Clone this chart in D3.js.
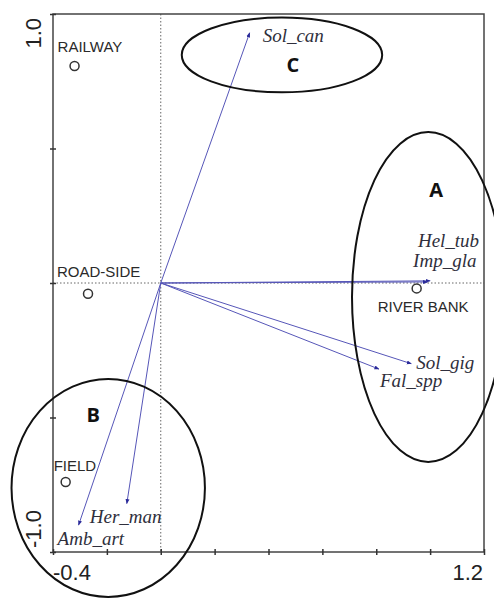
<!DOCTYPE html>
<html>
<head>
<meta charset="utf-8">
<script src="https://cdnjs.cloudflare.com/ajax/libs/d3/7.8.5/d3.min.js"></script>
<style>
  body { margin: 0; background: #fff; }
  svg { display: block; }
</style>
</head>
<body>
<div class="container"></div>
<script>
const W = 494, H = 599;

// axis ticks
const xTicks = [-0.4, -0.2, 0, 0.2, 0.4, 0.6, 0.8, 1.0, 1.2];
const yTicks = [-1.0, -0.5, 0, 0.5, 1.0];
const xTickLabels = ["-0.4", "1.2"];
const yTickLabels = ["-1.0", "1.0"];

// sites (samples)
const sites = ["RAILWAY", "ROAD-SIDE", "FIELD", "RIVER BANK"];
const siteX = [-0.32, -0.27, -0.353, 0.95];
const siteY = [0.807, -0.04, -0.74, -0.02];

// species arrows
const species = ["Sol_can", "Hel_tub", "Imp_gla", "Sol_gig", "Fal_spp", "Her_man", "Amb_art"];
const specX = [0.33, 1.0, 0.99, 0.93, 0.81, -0.126, -0.305];
const specY = [0.93, 0.008, 0.004, -0.30, -0.32, -0.82, -0.90];

// groups drawn as ellipses
const groups = ["C", "A", "B"];
const groupCX = [0.45, 0.993, -0.195];
const groupCY = [0.848, -0.052, -0.762];
const groupRX = [0.372, 0.283, 0.359];
const groupRY = [0.139, 0.613, 0.405];

// label offsets in px
const siteOff = [[-17, -14], [-31, -17], [-12, -11], [-39, 24]];
const specOff = [[13, 9, "start"], [49, -34, "end"], [49, -15, "end"], [5, 5, "start"], [1, 18, "start"], [-37, 19, "start"], [-21, 20, "start"]];
const groupOff = [[11, 17], [8, -100], [-15, -66]];

const SANS = "'Liberation Sans', Arial, sans-serif";
const SERIF = "'Liberation Serif', 'Times New Roman', 'DejaVu Serif', serif";

var draw = function(){
    var svg = d3.select(".container").append("svg")
        .attr("width", W)
        .attr("height", H);

    var x = d3.scaleLinear().domain([-0.4, 1.2]).range([53, 484]);
    var y = d3.scaleLinear().domain([-1, 1]).range([552, 14]);

    // dotted zero lines
    svg.append("line")
        .attr("x1", x(0)).attr("x2", x(0))
        .attr("y1", y(1)).attr("y2", y(-1))
        .attr("stroke", "#666").attr("stroke-width", 1)
        .attr("stroke-dasharray", "1.5,2");
    svg.append("line")
        .attr("x1", x(-0.4)).attr("x2", x(1.2))
        .attr("y1", y(0)).attr("y2", y(0))
        .attr("stroke", "#666").attr("stroke-width", 1)
        .attr("stroke-dasharray", "1.5,2");

    // frame
    svg.append("rect")
        .attr("x", x(-0.4)).attr("y", y(1))
        .attr("width", x(1.2) - x(-0.4))
        .attr("height", y(-1) - y(1))
        .attr("fill", "none").attr("stroke", "#444").attr("stroke-width", 1.5);

    // axes (tick marks only)
    var xAxis = svg.append("g")
        .attr("transform", "translate(0," + y(-1) + ")")
        .call(d3.axisBottom(x).tickValues(xTicks).tickSizeInner(3).tickSizeOuter(0).tickFormat(""));
    xAxis.select(".domain").remove();
    xAxis.selectAll(".tick line").attr("y1", -3).attr("y2", 3).attr("stroke", "#333").attr("stroke-width", 1.5);

    var yAxis = svg.append("g")
        .attr("transform", "translate(" + x(-0.4) + ",0)")
        .call(d3.axisLeft(y).tickValues(yTicks).tickSizeInner(3).tickSizeOuter(0).tickFormat(""));
    yAxis.select(".domain").remove();
    yAxis.selectAll(".tick line").attr("x1", -3).attr("x2", 3).attr("stroke", "#333").attr("stroke-width", 1.5);

    // axis end labels
    var axLab = function(sel){
        sel.attr("font-family", SANS).attr("font-size", 22).attr("fill", "#222");
    };
    svg.append("text").call(axLab)
        .attr("x", x(-0.4)).attr("y", 580).attr("text-anchor", "start")
        .text(xTickLabels[0]);
    svg.append("text").call(axLab)
        .attr("x", x(1.2) - 1).attr("y", 580).attr("text-anchor", "end")
        .text(xTickLabels[1]);
    svg.append("text").call(axLab)
        .attr("transform", "translate(41," + (y(-1) - 4) + ") rotate(-90)")
        .attr("text-anchor", "start")
        .text(yTickLabels[0]);
    svg.append("text").call(axLab)
        .attr("transform", "translate(41," + (y(1) + 4) + ") rotate(-90)")
        .attr("text-anchor", "end")
        .text(yTickLabels[1]);

    // arrowhead
    svg.append("defs").append("marker")
        .attr("id", "arr")
        .attr("viewBox", "0 0 10 10")
        .attr("refX", 9).attr("refY", 5)
        .attr("markerWidth", 5).attr("markerHeight", 5)
        .attr("markerUnits", "userSpaceOnUse")
        .attr("orient", "auto")
        .append("path")
        .attr("d", "M0,1L10,5L0,9Z")
        .attr("fill", "#2a2a99");

    // species arrows
    species.forEach(function(s, i){
        svg.append("line")
            .attr("x1", x(0)).attr("y1", y(0))
            .attr("x2", x(specX[i])).attr("y2", y(specY[i]))
            .attr("stroke", "#5656b8").attr("stroke-width", 1)
            .attr("marker-end", "url(#arr)");
        svg.append("text")
            .attr("font-family", SERIF)
            .attr("font-style", "italic")
            .attr("font-size", 19)
            .attr("fill", "#2f2f3c")
            .attr("x", x(specX[i]) + specOff[i][0])
            .attr("y", y(specY[i]) + specOff[i][1])
            .attr("text-anchor", specOff[i][2])
            .text(s);
    });

    // sites
    sites.forEach(function(s, i){
        svg.append("circle")
            .attr("cx", x(siteX[i])).attr("cy", y(siteY[i]))
            .attr("r", 4.5)
            .attr("fill", "none").attr("stroke", "#333").attr("stroke-width", 1.5);
        svg.append("text")
            .attr("font-family", SANS)
            .attr("font-size", 15)
            .attr("fill", "#2a2a2a")
            .attr("x", x(siteX[i]) + siteOff[i][0])
            .attr("y", y(siteY[i]) + siteOff[i][1])
            .text(s);
    });

    // group ellipses
    groups.forEach(function(g, i){
        var cx = x(groupCX[i]), cy = y(groupCY[i]);
        svg.append("ellipse")
            .attr("cx", cx).attr("cy", cy)
            .attr("rx", x(groupRX[i]) - x(0))
            .attr("ry", y(0) - y(groupRY[i]))
            .attr("fill", "none").attr("stroke", "#111").attr("stroke-width", 2);
        svg.append("text")
            .attr("font-family", "'Open Sans', " + SANS)
            .attr("font-weight", "bold")
            .attr("font-size", 20)
            .attr("fill", "#111")
            .attr("x", cx + groupOff[i][0])
            .attr("y", cy + groupOff[i][1])
            .attr("text-anchor", "middle")
            .text(g);
    });
}

window.onload = draw;
</script>
</body>
</html>
